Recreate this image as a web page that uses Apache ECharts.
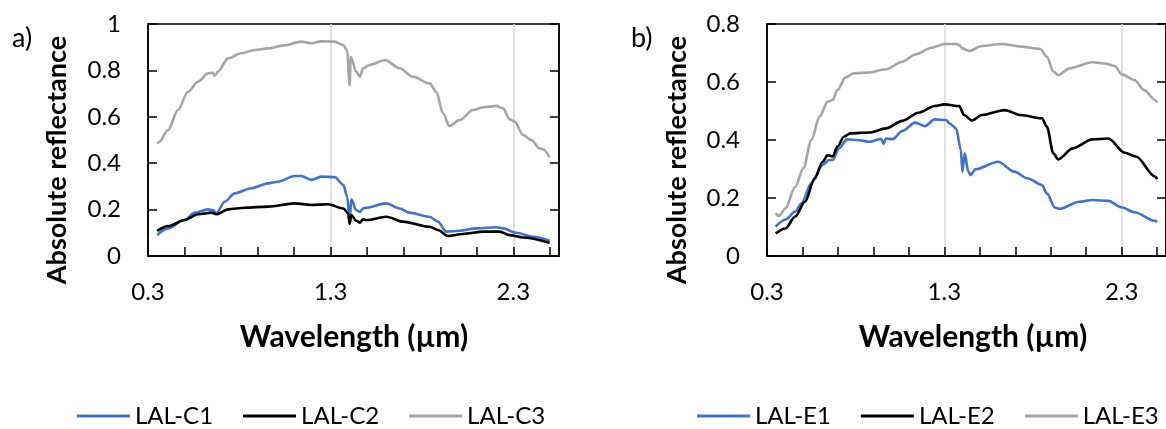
<!DOCTYPE html>
<html>
<head>
<meta charset="utf-8">
<script src="https://cdn.jsdelivr.net/npm/echarts@6/dist/echarts.min.js"></script>
<style>
html,body{margin:0;padding:0;background:#fff;}
#chart{width:1166px;height:429px;}
</style>
</head>
<body>
<div id="chart"></div>
<script>
// ---- Panel a data ----
const c1Wl = [0.35,0.41,0.5,0.556,0.628,0.656,0.674,0.72,0.775,0.866,0.957,1.011,1.103,1.139,1.194,1.249,1.322,1.37,1.39,1.404,1.413,1.44,1.46,1.477,1.486,1.605,1.678,1.732,1.842,1.887,1.933,2.006,2.097,2.207,2.243,2.316,2.407,2.499];
const c1R  = [0.09,0.119,0.155,0.187,0.201,0.198,0.184,0.234,0.27,0.292,0.313,0.32,0.345,0.345,0.328,0.342,0.34,0.306,0.256,0.155,0.244,0.198,0.19,0.205,0.207,0.227,0.205,0.187,0.169,0.148,0.105,0.109,0.119,0.124,0.119,0.1,0.083,0.066];
const c2Wl = [0.35,0.41,0.5,0.574,0.647,0.674,0.738,0.829,0.957,1.103,1.194,1.285,1.37,1.395,1.404,1.413,1.44,1.46,1.477,1.495,1.605,1.696,1.842,1.887,1.942,2.024,2.134,2.225,2.28,2.353,2.499];
const c2R  = [0.108,0.129,0.155,0.18,0.187,0.18,0.201,0.208,0.213,0.227,0.22,0.223,0.205,0.184,0.138,0.177,0.152,0.144,0.158,0.155,0.169,0.148,0.126,0.112,0.086,0.095,0.105,0.105,0.09,0.08,0.057];
const c3Wl = [0.35,0.36,0.41,0.464,0.519,0.574,0.628,0.655,0.665,0.683,0.738,0.811,0.884,0.957,1.048,1.139,1.194,1.249,1.322,1.37,1.39,1.404,1.41,1.44,1.46,1.477,1.513,1.597,1.678,1.75,1.842,1.878,1.915,1.951,2.006,2.079,2.134,2.207,2.243,2.28,2.307,2.353,2.399,2.444,2.462,2.499];
const c3R  = [0.486,0.49,0.543,0.629,0.708,0.751,0.787,0.79,0.776,0.795,0.852,0.874,0.888,0.895,0.908,0.924,0.917,0.925,0.924,0.909,0.885,0.737,0.859,0.794,0.773,0.809,0.823,0.845,0.809,0.773,0.744,0.708,0.615,0.56,0.586,0.629,0.641,0.647,0.637,0.589,0.579,0.522,0.5,0.464,0.46,0.425];

// ---- Panel b data ----
const e1Wl = [0.349,0.404,0.459,0.495,0.55,0.614,0.651,0.67,0.706,0.752,0.807,0.88,0.944,0.957,0.971,1.008,1.063,1.136,1.191,1.246,1.31,1.33,1.366,1.393,1.402,1.415,1.435,1.448,1.475,1.603,1.695,1.768,1.851,1.878,1.924,1.951,2.061,2.134,2.225,2.299,2.372,2.488,2.5];
const e1R  = [0.101,0.126,0.153,0.182,0.251,0.314,0.331,0.331,0.371,0.402,0.4,0.394,0.404,0.386,0.405,0.403,0.431,0.46,0.448,0.471,0.469,0.457,0.44,0.366,0.291,0.354,0.291,0.279,0.299,0.325,0.291,0.268,0.245,0.216,0.167,0.163,0.187,0.193,0.19,0.168,0.151,0.121,0.118];
const e2Wl = [0.349,0.404,0.459,0.514,0.569,0.614,0.642,0.67,0.697,0.734,0.77,0.88,0.971,1.063,1.154,1.246,1.3,1.384,1.411,1.457,1.512,1.64,1.732,1.851,1.878,1.915,1.942,2.024,2.134,2.225,2.317,2.381,2.488,2.5];
const e2R  = [0.078,0.095,0.136,0.187,0.268,0.325,0.348,0.343,0.377,0.411,0.423,0.426,0.44,0.466,0.494,0.517,0.523,0.517,0.486,0.467,0.486,0.503,0.486,0.475,0.446,0.354,0.333,0.371,0.402,0.405,0.356,0.343,0.274,0.265];
const e3Wl = [0.349,0.367,0.404,0.459,0.505,0.55,0.596,0.642,0.67,0.697,0.743,0.789,0.88,0.971,1.063,1.136,1.228,1.3,1.364,1.384,1.402,1.439,1.512,1.622,1.732,1.841,1.878,1.915,1.942,2.006,2.134,2.207,2.262,2.299,2.372,2.427,2.488,2.5];
const e3R  = [0.147,0.138,0.164,0.239,0.302,0.4,0.48,0.532,0.538,0.572,0.616,0.63,0.633,0.644,0.67,0.695,0.718,0.731,0.731,0.728,0.716,0.707,0.724,0.731,0.722,0.714,0.687,0.636,0.624,0.647,0.668,0.664,0.655,0.627,0.607,0.572,0.538,0.53];

const namesA = ['LAL-C1','LAL-C2','LAL-C3'];
const namesB = ['LAL-E1','LAL-E2','LAL-E3'];
const colors = ['#4472C4','#000000','#A5A5A5'];
const xTicksLabelled = [0.3, 1.3, 2.3];

const FONT = 'Lato';
const zip = (a, b) => a.map((v, i) => [v, b[i]]);

function axesFor(gridIndex, yMax) {
  const xs = [
    { gridIndex, type:'value', min:0.3, max:2.55, interval:0.2, position:'bottom',
      axisLine:{show:true, lineStyle:{color:'#000', width:1.5}},
      axisTick:{show:true, inside:true, length:9, lineStyle:{color:'#000', width:1.5}},
      axisLabel:{show:false}, splitLine:{show:false} },
    { gridIndex, type:'value', min:0.3, max:2.55, interval:1, position:'bottom',
      axisLine:{show:false}, axisTick:{show:false},
      axisLabel:{show:true, showMaxLabel:false, margin:24, fontFamily:FONT, fontSize:24, color:'#000',
        formatter: v => xTicksLabelled.some(t => Math.abs(t - v) < 1e-6) ? v.toFixed(1) : ''},
      splitLine:{show:true, showMinLine:false, showMaxLine:false, lineStyle:{color:'#D9D9D9', width:1.5}} }
  ];
  const ys = [
    { gridIndex, type:'value', min:0, max:yMax, interval:0.2, position:'left',
      axisLine:{show:true, lineStyle:{color:'#000', width:1.5}},
      axisTick:{show:true, inside:true, length:9, lineStyle:{color:'#000', width:1.5}},
      axisLabel:{show:true, margin:27, fontFamily:FONT, fontSize:24, color:'#000',
        formatter: v => String(+v.toFixed(1))},
      splitLine:{show:false} },
    { gridIndex, type:'value', min:0, max:yMax, interval:0.2, position:'right',
      axisLine:{show:true, lineStyle:{color:'#000', width:1.5}},
      axisTick:{show:true, inside:true, length:9, lineStyle:{color:'#000', width:1.5}},
      axisLabel:{show:false}, splitLine:{show:false} }
  ];
  return {xs, ys};
}
const axA = axesFor(0, 1);
const axB = axesFor(1, 0.8);

function mkSeries(name, wl, r, color, xi, yi) {
  return { name, type:'line', xAxisIndex:xi, yAxisIndex:yi, data: zip(wl, r),
    showSymbol:false, symbol:'none', smooth:0.3, smoothMonotone:'x', animation:false,
    lineStyle:{color, width:2.6}, itemStyle:{color} };
}

const series = [
  mkSeries(namesA[0], c1Wl, c1R, colors[0], 0, 0),
  mkSeries(namesA[1], c2Wl, c2R, colors[1], 0, 0),
  mkSeries(namesA[2], c3Wl, c3R, colors[2], 0, 0),
  mkSeries(namesB[0], e1Wl, e1R, colors[0], 2, 2),
  mkSeries(namesB[1], e2Wl, e2R, colors[1], 2, 2),
  mkSeries(namesB[2], e3Wl, e3R, colors[2], 2, 2)
];

const legendCommon = { orient:'horizontal', icon:'rect', itemWidth:53, itemHeight:3, itemGap:30,
  padding:0, width:520, textStyle:{fontFamily:FONT, fontSize:24, color:'#000'}, selectedMode:false };

const yTitleStyle = { fontFamily:FONT, fontSize:27, fontWeight:'bold', fill:'#000' };
const xTitleStyle = { fontFamily:FONT, fontSize:30, fontWeight:'bold', fill:'#000' };

const chart = echarts.init(document.getElementById('chart'), null, {renderer:'canvas'});
chart.setOption({
  animation:false,
  backgroundColor:'#fff',
  grid:[
    {left:148, top:24, width:411, height:232, show:true, borderColor:'#000', borderWidth:1.5, backgroundColor:'transparent', containLabel:false},
    {left:767, top:24, width:411, height:232, show:true, borderColor:'#000', borderWidth:1.5, backgroundColor:'transparent', containLabel:false}
  ],
  xAxis:[...axA.xs, ...axB.xs],
  yAxis:[...axA.ys, ...axB.ys],
  legend:[
    Object.assign({data:namesA, left:77, top:404}, legendCommon),
    Object.assign({data:namesB, left:697, top:404}, legendCommon)
  ],
  graphic:[
    {type:'text', left:12, top:25, style:{text:'a)', fontFamily:FONT, fontSize:27, fill:'#000'}},
    {type:'text', left:631, top:25, style:{text:'b)', fontFamily:FONT, fontSize:27, fill:'#000'}},
    {type:'text', x:57, y:160, rotation:Math.PI/2, style:Object.assign({text:'Absolute reflectance', align:'center', verticalAlign:'middle'}, yTitleStyle)},
    {type:'text', x:677, y:160, rotation:Math.PI/2, style:Object.assign({text:'Absolute reflectance', align:'center', verticalAlign:'middle'}, yTitleStyle)},
    {type:'text', x:354, y:337, style:Object.assign({text:'Wavelength (µm)', align:'center', verticalAlign:'middle'}, xTitleStyle)},
    {type:'text', x:973, y:337, style:Object.assign({text:'Wavelength (µm)', align:'center', verticalAlign:'middle'}, xTitleStyle)}
  ],
  series
});
</script>
</body>
</html>
